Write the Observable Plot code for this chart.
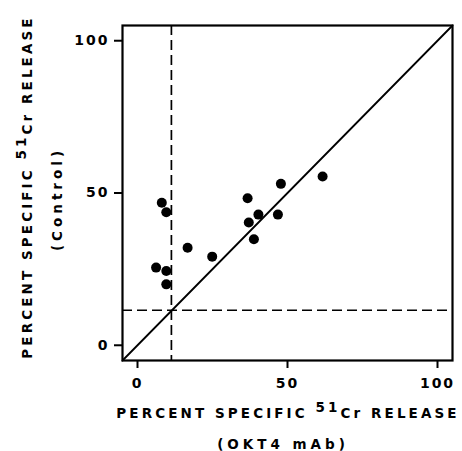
<!DOCTYPE html>
<html>
<head>
<meta charset="utf-8">
<script src="https://cdn.jsdelivr.net/npm/d3@7"></script>
<script src="https://cdn.jsdelivr.net/npm/@observablehq/plot@0.6"></script>
<style>
  html, body { margin: 0; padding: 0; background: #fff; }
  svg text { font-family: "DejaVu Sans", sans-serif; font-weight: bold; }
</style>
</head>
<body>
<div id="chart"></div>
<script>
// Data: percent specific 51Cr release, OKT4 mAb (x) vs Control (y)
const okt4    = [8.1, 9.6, 6.2, 9.6, 9.6, 16.7, 24.9, 36.7, 37.1, 38.8, 40.3, 46.8, 47.8, 61.7];
const control = [46.8, 43.7, 25.5, 24.4, 20.0, 32.0, 29.1, 48.3, 40.3, 34.8, 42.9, 42.9, 53.0, 55.4];
const axisDomain = [-5, 105];
const tickValues = [0, 50, 100];
const cutoffX = [11.3];
const cutoffY = [11.5];

const points = okt4.map((x, i) => ({x, y: control[i]}));

const W = 462, H = 451;
const plot = Plot.plot({
  width: W,
  height: H,
  marginLeft: 122,
  marginRight: 10,
  marginTop: 25,
  marginBottom: 91,
  style: {background: "#fff", fontFamily: "DejaVu Sans, sans-serif"},
  x: {domain: axisDomain},
  y: {domain: axisDomain},
  marks: [
    Plot.ruleX(cutoffX, {stroke: "#000", strokeWidth: 1.7, strokeDasharray: "10,5"}),
    Plot.ruleY(cutoffY, {stroke: "#000", strokeWidth: 1.7, strokeDasharray: "10,5"}),
    Plot.line(axisDomain, {x: d => d, y: d => d, stroke: "#000", strokeWidth: 1.8}),
    Plot.dot(points, {x: "x", y: "y", r: 5, fill: "#000", stroke: "none"}),
    Plot.frame({stroke: "#000", strokeWidth: 2.2}),
    Plot.axisX({ticks: tickValues, tickSize: 8, tickPadding: 10, fontSize: 14, fontWeight: "bold", label: null, strokeWidth: 2}),
    Plot.axisY({ticks: tickValues, tickSize: 8, tickPadding: 5, fontSize: 14, fontWeight: "bold", label: null, strokeWidth: 2})
  ]
});
document.getElementById("chart").appendChild(plot);

const svg = d3.select(plot);
svg.selectAll("g[aria-label='x-axis tick label'] text, g[aria-label='y-axis tick label'] text")
  .style("letter-spacing", "2px");

function titleLine(g, x, y, rotate, parts, size, spacing) {
  const t = g.append("text")
    .attr("transform", `translate(${x},${y}) rotate(${rotate})`)
    .attr("text-anchor", "middle")
    .attr("font-size", size)
    .attr("fill", "#000")
    .style("letter-spacing", spacing + "px");
  parts.forEach(p => {
    const ts = t.append("tspan").text(p.text);
    if (p.sup) ts.attr("baseline-shift", "45%");
  });
  return t;
}

const titleParts = [
  {text: "PERCENT SPECIFIC "},
  {text: "51", sup: true},
  {text: "Cr RELEASE"}
];
const g = svg.append("g");
// x-axis title
titleLine(g, 288, 418, 0, titleParts, 13.5, 3.1);
titleLine(g, 283, 449, 0, [{text: "(OKT4 mAb)"}], 13.5, 4);
// y-axis title
titleLine(g, 32, 187, -90, titleParts, 13.5, 3.1);
titleLine(g, 62, 199, -90, [{text: "(Control)"}], 13.5, 4);
</script>
</body>
</html>
